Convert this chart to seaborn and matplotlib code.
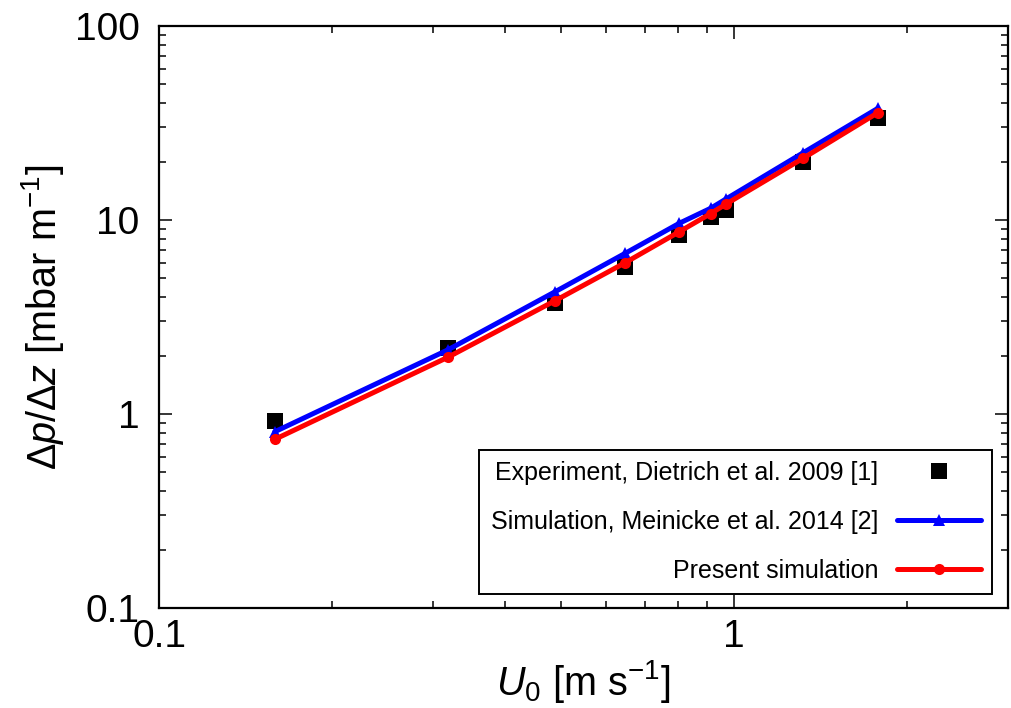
import numpy as np
import pandas as pd
import matplotlib
matplotlib.use("Agg")
import matplotlib.pyplot as plt
from matplotlib.ticker import LogLocator, NullFormatter, FixedLocator, FixedFormatter
import seaborn as sns

# ---- data ----
u0 = [0.159, 0.318, 0.489, 0.647, 0.804, 0.912, 0.968, 1.32, 1.78]
dp_exp = [0.92, 2.20, 3.75, 5.74, 8.37, 10.4, 11.2, 20.0, 33.4]
dp_meinicke = [0.81, 2.14, 4.27, 6.73, 9.62, 11.5, 12.8, 22.2, 37.6]
dp_present = [0.74, 1.96, 3.84, 6.02, 8.70, 10.8, 12.05, 20.8, 35.7]

label_exp = "Experiment, Dietrich et al. 2009 [1]"
label_mei = "Simulation, Meinicke et al. 2014 [2]"
label_pre = "Present simulation"

x_ticks = [0.1, 1]
x_ticklabels = ["0.1", "1"]
y_ticks = [0.1, 1, 10, 100]
y_ticklabels = ["0.1", "1", "10", "100"]

sns.set_style("ticks")
plt.rcParams["font.family"] = ["Liberation Sans", "DejaVu Sans"]
plt.rcParams["mathtext.fontset"] = "custom"
plt.rcParams["mathtext.rm"] = "Liberation Sans"
plt.rcParams["mathtext.it"] = "Liberation Sans:italic"
plt.rcParams["mathtext.bf"] = "Liberation Sans:bold"
plt.rcParams["text.color"] = "black"
plt.rcParams["axes.labelcolor"] = "black"
plt.rcParams["xtick.color"] = "black"
plt.rcParams["ytick.color"] = "black"

fig = plt.figure(figsize=(10.12, 7.08), dpi=100)
ax = fig.add_axes([159 / 1012, 1 - 608 / 708, (1008 - 159) / 1012, (608 - 26) / 708])

df = pd.DataFrame({"u0": u0, "exp": dp_exp, "mei": dp_meinicke, "pre": dp_present})

sns.scatterplot(data=df, x="u0", y="exp", marker="s", s=144, color="black",
                linewidth=0, label=label_exp, ax=ax, zorder=2)
sns.lineplot(data=df, x="u0", y="mei", color="#0000ff", linewidth=3.6, marker="^",
             markersize=9, markeredgewidth=0, label=label_mei, ax=ax, zorder=3)
sns.lineplot(data=df, x="u0", y="pre", color="#ff0000", linewidth=3.6, marker="o",
             markersize=8, markeredgewidth=0, label=label_pre, ax=ax, zorder=4)

ax.set_xscale("log")
ax.set_yscale("log")
ax.set_xlim(0.1, 3)
ax.set_ylim(0.1, 100)

ax.xaxis.set_major_locator(FixedLocator(x_ticks))
ax.xaxis.set_major_formatter(FixedFormatter(x_ticklabels))
ax.yaxis.set_major_locator(FixedLocator(y_ticks))
ax.yaxis.set_major_formatter(FixedFormatter(y_ticklabels))
ax.xaxis.set_minor_locator(LogLocator(base=10, subs=np.arange(2, 10)))
ax.yaxis.set_minor_locator(LogLocator(base=10, subs=np.arange(2, 10)))
ax.xaxis.set_minor_formatter(NullFormatter())
ax.yaxis.set_minor_formatter(NullFormatter())

ax.tick_params(which="both", direction="in", top=True, right=True,
               colors="black", labelcolor="black")
ax.tick_params(which="major", length=9.5, width=1.1, labelsize=28)
ax.tick_params(which="minor", length=5, width=1.1)
ax.tick_params(axis="y", which="major", pad=14)
ax.tick_params(axis="x", which="major", pad=8)
for sp in ax.spines.values():
    sp.set_linewidth(1.6)
    sp.set_color("black")

ax.set_xlabel(r"$U_0$ [m s$^{-1}$]", fontsize=28.5, labelpad=2, color="black")
ax.set_ylabel(r"Δ$p$/Δ$z$ [mbar m$^{-1}$]", fontsize=28.5, labelpad=6, color="black")

handles, labels = ax.get_legend_handles_labels()
leg = ax.legend(handles, labels, loc="lower right", bbox_to_anchor=(0.981, 0.024),
                borderaxespad=0, markerfirst=False, fontsize=18, frameon=True,
                fancybox=False, edgecolor="black", framealpha=1,
                handlelength=3.35, handletextpad=0.75, labelspacing=1.0,
                borderpad=0.45, scatteryoffsets=[0.5])
leg.get_frame().set_linewidth(1.4)
for t in leg.get_texts():
    t.set_color("black")

fig.savefig("out.png", dpi=100)
